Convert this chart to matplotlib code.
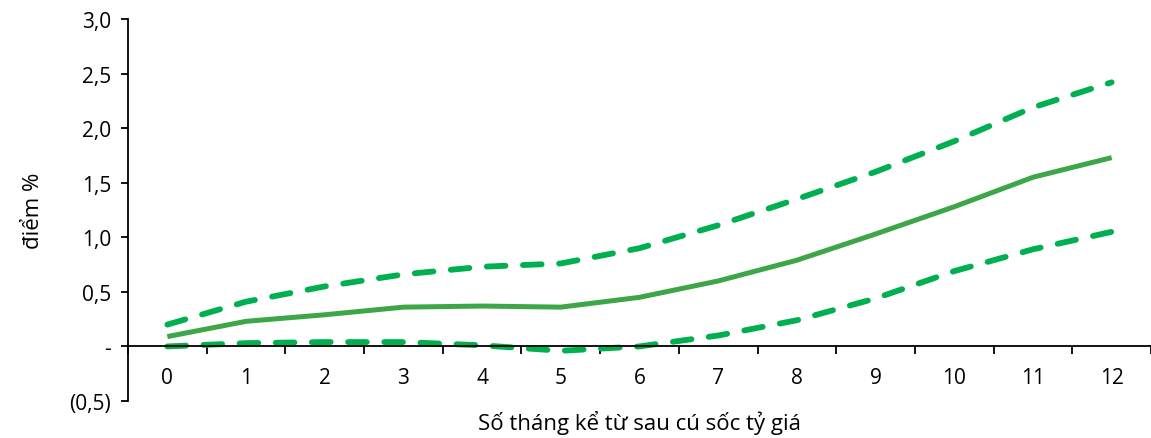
import numpy as np
import matplotlib.pyplot as plt

plt.rcParams['font.family'] = ['Open Sans', 'DejaVu Sans']

months = list(range(13))
central = [0.09, 0.23, 0.29, 0.36, 0.37, 0.36, 0.45, 0.60, 0.79, 1.03, 1.28, 1.55, 1.73]
upper = [0.20, 0.41, 0.55, 0.66, 0.73, 0.76, 0.90, 1.11, 1.35, 1.60, 1.88, 2.19, 2.42]
lower = [0.00, 0.03, 0.04, 0.04, 0.01, -0.04, 0.00, 0.10, 0.24, 0.44, 0.69, 0.89, 1.05]
ytick_vals = [-0.5, 0, 0.5, 1.0, 1.5, 2.0, 2.5, 3.0]
ytick_labels = ['(0,5)', '-', '0,5', '1,0', '1,5', '2,0', '2,5', '3,0']

fig = plt.figure(figsize=(11.51, 4.39), dpi=100)
ax = fig.add_axes([128 / 1151, 37 / 439, 1 - 128 / 1151, 382 / 439])

dash_col = '#00B050'
ax.plot(months, upper, color=dash_col, lw=4.2, dashes=(3.2, 3.0), dash_capstyle='round')
ax.plot(months, lower, color=dash_col, lw=4.2, dashes=(3.2, 3.0), dash_capstyle='round')
ax.plot(months, central, color='#3DA648', lw=3.6, solid_capstyle='butt')

ax.set_xlim(-0.5, 12.5)
ax.set_ylim(-0.5, 3.0)

for s in ['top', 'right']:
    ax.spines[s].set_visible(False)
ax.spines['bottom'].set_position(('data', 0))
ax.spines['bottom'].set_linewidth(1.3)
ax.spines['left'].set_linewidth(1.3)

ax.set_yticks(ytick_vals)
ax.set_yticklabels(ytick_labels, fontsize=15)
ax.tick_params(axis='y', direction='out', length=5, width=1.3, pad=7)

ax.set_xticks(np.arange(-0.5, 13, 1.0))
ax.set_xticklabels([])
ax.tick_params(axis='x', which='major', direction='out', length=6, width=1.3)
ax.set_xticks(months, minor=True)
ax.set_xticklabels([str(m) for m in months], minor=True, fontsize=15)
ax.tick_params(axis='x', which='minor', length=0, pad=15)

ax.set_ylabel('điểm %', fontsize=16)
ax.yaxis.set_label_coords(-0.082, 0.5)
ax.set_xlabel('Số tháng kể từ sau cú sốc tỷ giá', fontsize=16, va='center')
ax.xaxis.set_label_coords(0.5, -0.055)

fig.savefig('out.png', dpi=100)
